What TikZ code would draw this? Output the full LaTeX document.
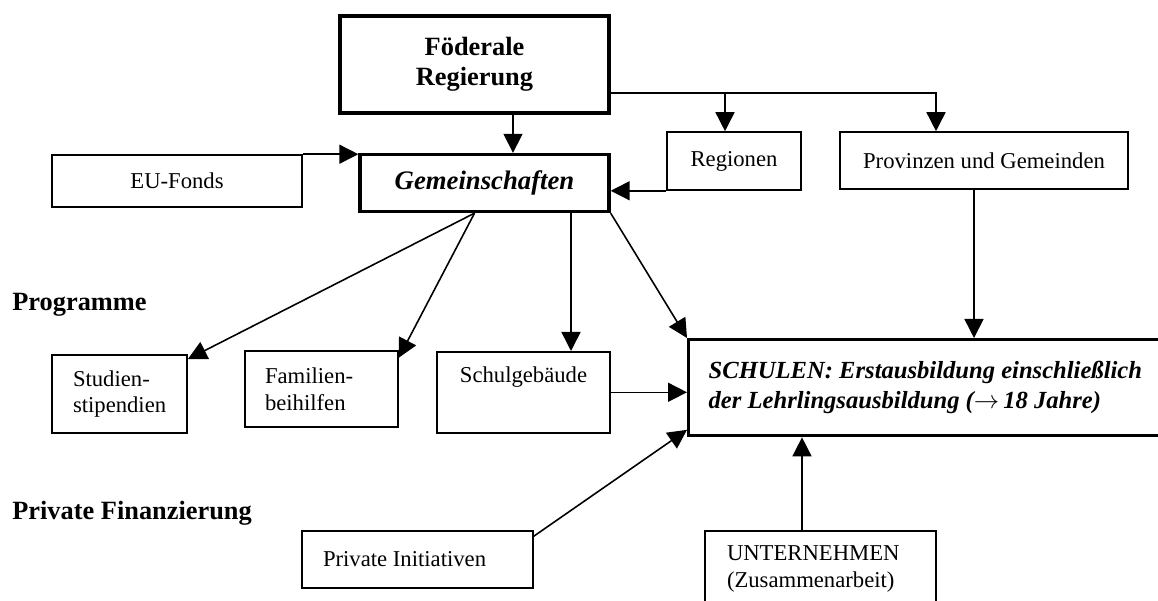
\documentclass[tikz,border=0pt]{standalone}
\usepackage{fontspec}
\setmainfont{Liberation Serif}
\usetikzlibrary{arrows.meta}
\tikzset{
	box/.style={draw, line width=0.9pt, rectangle, inner sep=0pt, align=center, font=\fontsize{12.9}{15.3}\selectfont},
	bigbox/.style={box, line width=1.9pt, font=\fontsize{15}{17}\selectfont\bfseries},
	arr/.style={-{Triangle[length=0.38cm,width=0.38cm]}, line width=0.9pt},
	lbl/.style={anchor=west, inner sep=0pt, font=\fontsize{15}{17}\selectfont\bfseries}
}

\begin{document}
\begin{tikzpicture}
	\useasboundingbox (0,0) rectangle (23.16,-12.02);
	\clip (0,0) rectangle (23.16,-12.02);
	\node [bigbox, minimum width=5.38cm, minimum height=1.94cm] (fed) at (9.49,-1.29) {Föderale\\Regierung};
	\node [bigbox, minimum width=4.98cm, minimum height=1.14cm, font=\fontsize{15.2}{17}\selectfont\bfseries\itshape] (gem) at (9.69,-3.66) {Gemeinschaften};
	\node [box, minimum width=5cm, minimum height=1.04cm] (eu) at (3.54,-3.62) {EU-Fonds};
	\node [box, minimum width=2.68cm, minimum height=1.16cm] (reg) at (14.68,-3.22) {Regionen};
	\node [box, minimum width=5.76cm, minimum height=1.14cm] (prov) at (19.68,-3.21) {Provinzen und Gemeinden};
	\node [box, align=flush left, inner xsep=0.42cm, text width=1.86cm, minimum height=1.56cm] (stud) at (2.39,-7.88) {Studien-\\stipendien};
	\node [box, align=flush left, inner xsep=0.4cm, text width=2.26cm, minimum height=1.52cm] (fam) at (6.43,-7.78) {Familien-\\beihilfen};
	\node [box, anchor=north, minimum width=3.46cm, text height=0.62cm, text depth=1cm] (schg) at (10.47,-7.02) {Schulgebäude};
	\node [bigbox, anchor=north west, align=flush left, inner xsep=0.4cm, text width=9.06cm, minimum height=1.92cm, font=\fontsize{14}{17}\selectfont\bfseries\itshape] (schul) at (13.74,-6.76) {SCHULEN: Erstausbildung einschließlich\\der Lehrlingsausbildung ($\rightarrow$\,18 Jahre)};
	\node [box, align=flush left, inner xsep=0.42cm, text width=3.78cm, minimum height=1.14cm] (priv) at (8.35,-11.19) {Private Initiativen};
	\node [box, align=flush left, inner xsep=0.44cm, text width=3.74cm, minimum height=1.52cm] (unt) at (16.41,-11.38) {UNTERNEHMEN\\(Zusammenarbeit)};
	\node [lbl] (prog) at (0.24,-6.1) {Programme};
	\node [lbl] (pfin) at (0.24,-10.26) {Private Finanzierung};

	\coordinate (split) at ([yshift=-0.57cm]fed.east);
	\draw [arr] ([xshift=0.77cm]fed.south) -- ([xshift=0.77cm]fed.south |- gem.north);
	\draw [arr] (split) -| ([xshift=-0.96cm]prov.north);
	\draw [arr] ([xshift=-0.18cm]reg.north |- split) -- ([xshift=-0.18cm]reg.north);
	\draw [arr] (reg.south west) -- (reg.south west -| gem.east);
	\draw [arr] (eu.north east) -- (eu.north east -| gem.west);
	\draw [arr] ([xshift=-0.2cm]gem.south) -- ([yshift=-0.1cm]stud.north east);
	\draw [arr] ([xshift=-0.2cm]gem.south) -- ([yshift=-0.15cm]fam.north east);
	\draw [arr] ([xshift=1.73cm]gem.south) -- ([xshift=1.73cm]gem.south |- schg.north);
	\draw [arr] (gem.south east) -- (schul.north west);
	\draw [arr] (schg.east) -- (schg.east -| schul.west);
	\draw [arr] ([yshift=-0.12cm]priv.north east) -- ([yshift=0.15cm]schul.south west);
	\draw [arr] ([xshift=-0.37cm]unt.north) -- ([xshift=-0.37cm]unt.north |- schul.south);
	\draw [arr] ([xshift=-0.2cm]prov.south) -- ([xshift=-0.2cm]prov.south |- schul.north);
\end{tikzpicture}
\end{document}
